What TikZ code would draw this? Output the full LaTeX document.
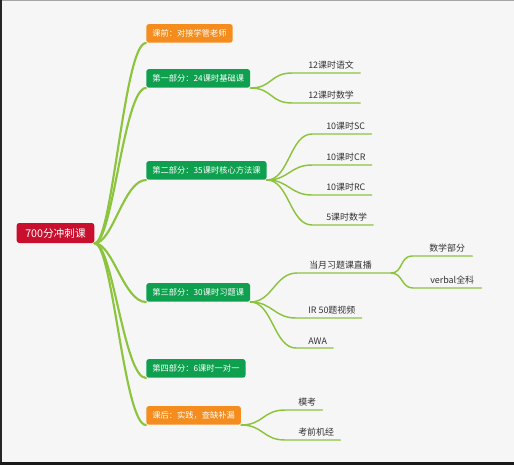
\documentclass[tikz,border=0pt]{standalone}
\usepackage{fontspec}
\setmainfont{Noto Sans CJK SC}
\usetikzlibrary{calc}
\definecolor{bgcol}{RGB}{246,246,246}
\definecolor{rootred}{RGB}{200,16,46}
\definecolor{partgreen}{RGB}{14,160,78}
\definecolor{extorange}{RGB}{245,140,30}
\definecolor{linegreen}{RGB}{141,196,62}
\definecolor{leaftext}{RGB}{51,51,51}

\begin{document}
\begin{tikzpicture}[x=0.75pt,y=-0.75pt,
  topic/.style={rounded corners=2pt,text=white,inner xsep=4.5pt,inner ysep=0pt,
    minimum height=14pt,anchor=south west,font=\fontsize{6.2}{7}\selectfont},
  leaf/.style={inner xsep=0pt,inner ysep=2.5pt,anchor=south west,text=leaftext,
    font=\fontsize{6.7}{7}\selectfont},
  trunk/.style={linegreen,line width=1.6pt,line cap=round},
  twig/.style={linegreen,line width=1.1pt,line cap=round}]
% fond et cadre de la capture
\fill[bgcol] (0,0) rectangle (514,465);
\fill[gray!70] (0,0) rectangle (514,1.2);
\fill[black!85] (0,0) rectangle (1.5,465);
\fill[black!90] (0,462) rectangle (514,465);
\useasboundingbox (0,0) rectangle (514,465);
% racine
\node[fill=rootred,rounded corners=2pt,text=white,inner xsep=6.5pt,minimum height=15pt,
  font=\fontsize{8}{9}\selectfont] (root) at (55.5,233) {700分冲刺课};
% branches principales
\foreach \n/\c/\y/\t in {pre/extorange/43/课前：对接学管老师,
    p1/partgreen/88/第一部分：24课时基础课,
    p2/partgreen/180/第二部分：35课时核心方法课,
    p3/partgreen/302/第三部分：30课时习题课,
    p4/partgreen/378/第四部分：6课时一对一,
    post/extorange/425/课后：实践，查缺补漏}{
  \node[topic,fill=\c] (\n) at (146,\y) {\t};
  \draw[trunk] (root.south east) .. controls +(18,0) and +(-22,0) .. (\n.south west);
}
% feuilles
\foreach \p/\n/\x/\y/\o/\t in {p1/p1a/308/73/16/12课时语文, p1/p1b/308/103/16/12课时数学,
    p2/sc/326/134/14/10课时SC, p2/cr/326/165/14/10课时CR,
    p2/rc/326/195/14/10课时RC, p2/math/326/225/14/5课时数学,
    p3/ir/308/318/12/IR 50题视频, p3/awa/308/348/12/AWA,
    post/mock/298/410/13/模考, post/jj/298/440/13/考前机经}{
  \node[leaf] (\n) at (\x,\y) {\t};
  \draw[twig] (\p.south east) .. controls +(22,0) and +(-22,0) .. ($(\n.south west)+(-\o,0)$)
    -- ($(\n.south east)+(6,0)$);
}
% sous-branche du direct
\node[leaf] (live) at (309,273) {当月习题课直播};
\coordinate (livefork) at ($(live.south east)+(19,0)$);
\draw[twig] (p3.south east) .. controls +(22,0) and +(-22,0) .. ($(live.south west)+(-12,0)$)
  -- (livefork);
\foreach \n/\x/\y/\t in {livem/429/256/数学部分, livev/430/288/verbal全科}{
  \node[leaf] (\n) at (\x,\y) {\t};
  \draw[twig] (livefork) .. controls +(12,0) and +(-12,0) .. ($(\n.south west)+(-17,0)$)
    -- ($(\n.south east)+(7,0)$);
}
\end{tikzpicture}
\end{document}
